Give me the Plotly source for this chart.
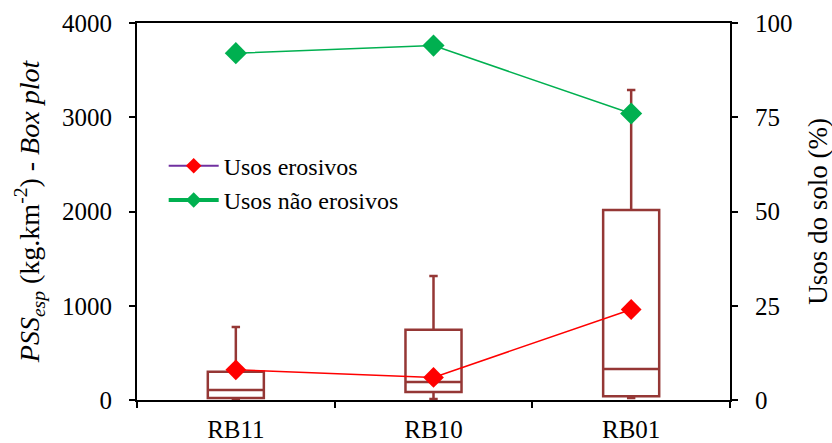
import plotly.graph_objects as go

# Sub-basins
stations = ["RB11", "RB10", "RB01"]

# PSS_esp box-plot statistics (kg.km-2)
pss_lower = [0, 10, 20]
pss_q1 = [20, 85, 40]
pss_median = [106, 190, 330]
pss_q3 = [300, 745, 2015]
pss_upper = [775, 1315, 3290]

# Land use shares (%)
usos_erosivos = [8, 6, 24]
usos_nao_erosivos = [92, 94, 76]

pss_ticks = [0, 1000, 2000, 3000, 4000]
usos_ticks = [0, 25, 50, 75, 100]

FONT = "Liberation Serif, Times New Roman, serif"
BOX_COLOR = "#953735"

fig = go.Figure()

fig.add_trace(go.Box(
    x=stations,
    q1=pss_q1, median=pss_median, q3=pss_q3,
    lowerfence=pss_lower, upperfence=pss_upper,
    line=dict(color=BOX_COLOR, width=2.5),
    fillcolor="rgba(0,0,0,0)",
    whiskerwidth=0.15,
    boxpoints=False,
    hoverinfo="skip",
    showlegend=False,
    yaxis="y",
))

fig.add_trace(go.Scatter(
    x=stations, y=usos_erosivos, mode="lines+markers",
    line=dict(color="#FF0000", width=1.5),
    marker=dict(symbol="diamond", size=16, color="#FF0000"),
    showlegend=False, yaxis="y2",
))
fig.add_trace(go.Scatter(
    x=stations, y=usos_nao_erosivos, mode="lines+markers",
    line=dict(color="#00B050", width=1.5),
    marker=dict(symbol="diamond", size=17, color="#00B050"),
    showlegend=False, yaxis="y2",
))

# Legend keys
fig.add_trace(go.Scatter(
    x=[None], y=[None], mode="lines+markers", name="Usos erosivos",
    line=dict(color="#7030A0", width=2),
    marker=dict(symbol="diamond", size=12, color="#FF0000"),
    yaxis="y2",
))
fig.add_trace(go.Scatter(
    x=[None], y=[None], mode="lines+markers", name="Usos não erosivos",
    line=dict(color="#00B050", width=4),
    marker=dict(symbol="diamond", size=12, color="#00B050"),
    yaxis="y2",
))

axis_common = dict(
    ticks="outside", ticklen=6, tickwidth=1.5, tickcolor="black",
    showline=True, linecolor="black", linewidth=2,
    showgrid=False, zeroline=False, automargin=False,
    tickfont=dict(size=25, family=FONT, color="black"),
)

fig.update_layout(
    width=832, height=443,
    margin=dict(l=137, r=102, t=23, b=43),
    paper_bgcolor="white", plot_bgcolor="white",
    font=dict(family=FONT, size=24, color="black"),
    boxgap=0.595,
    legend=dict(
        x=0.045, y=0.68, xanchor="left", yanchor="top",
        bgcolor="rgba(0,0,0,0)", font=dict(size=24, family=FONT, color="black"),
        tracegroupgap=0, itemwidth=50,
    ),
    xaxis=dict(
        type="category", tickson="boundaries", mirror=True,
        ticklabelstandoff=6,
        **axis_common,
    ),
    yaxis=dict(
        range=[0, 4000], tickvals=pss_ticks,
        ticklabelstandoff=12,
        title=dict(
            text="<i>PSS<sub>esp</sub></i> (kg.km<sup>-2</sup>) - <i>Box plot</i>",
            font=dict(size=28, family=FONT, color="black"), standoff=14,
        ),
        **axis_common,
    ),
    yaxis2=dict(
        overlaying="y", side="right",
        range=[0, 100], tickvals=usos_ticks,
        ticklabelstandoff=12,
        **axis_common,
    ),
    annotations=[dict(
        text="Usos do solo (%)", textangle=-90,
        xref="paper", yref="paper", x=1.147, y=0.5,
        xanchor="center", yanchor="middle", showarrow=False,
        font=dict(size=27, family=FONT, color="black"),
    )],
)

fig.write_html("out.html")
